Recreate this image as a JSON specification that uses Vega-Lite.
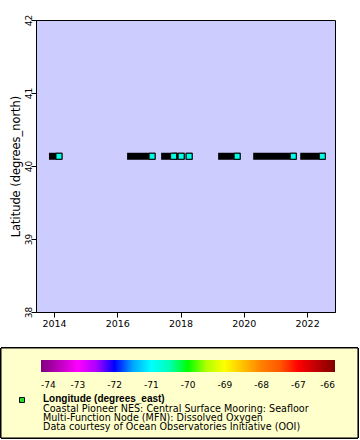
{
  "$schema": "https://vega.github.io/schema/vega-lite/v6.json",
  "autosize": {"type": "none"},
  "width": 299,
  "height": 292,
  "padding": {"left": 36, "top": 20, "right": 25, "bottom": 128},
  "background": "white",
  "view": {"fill": "#CCCCFF", "stroke": "black", "strokeWidth": 1},
  "config": {
    "font": "DejaVu Sans",
    "axis": {"labelColor": "black", "titleColor": "black", "tickColor": "black", "domainColor": "black", "grid": false, "titleFontWeight": "normal", "labelFont": "DejaVu Sans", "titleFont": "DejaVu Sans"},
    "legend": {"labelColor": "black", "labelFont": "DejaVu Sans"}
  },
  "title": {
    "text": "Longitude (degrees_east)",
    "subtitle": ["Coastal Pioneer NES: Central Surface Mooring: Seafloor", "Multi-Function Node (MFN): Dissolved Oxygen", "Data courtesy of Ocean Observatories Initiative (OOI)"],
    "orient": "bottom",
    "anchor": "start",
    "frame": "group",
    "offset": 0,
    "dx": 7,
    "dy": -44,
    "zindex": 2,
    "color": "black",
    "font": "Liberation Sans",
    "fontSize": 10,
    "fontWeight": "bold",
    "lineHeight": 9,
    "subtitleColor": "black",
    "subtitleFont": "DejaVu Sans",
    "subtitleFontSize": 9.6,
    "subtitleFontWeight": "normal",
    "subtitleLineHeight": 9,
    "subtitlePadding": 0
  },
  "data": {
    "values": [
      {"time_first": "2013-12-14", "time_last": "2014-02-27", "latitude": 40.1334, "longitude": -70.7785},
      {"time_first": "2016-06-03", "time_last": "2017-02-06", "latitude": 40.1334, "longitude": -70.7785},
      {"time_first": "2017-07-01", "time_last": "2017-10-13", "latitude": 40.1334, "longitude": -70.7785},
      {"time_first": "2017-11-16", "time_last": "2018-01-08", "latitude": 40.1334, "longitude": -70.7785},
      {"time_first": "2018-04-10", "time_last": "2018-04-10", "latitude": 40.1334, "longitude": -70.7785},
      {"time_first": "2019-04-20", "time_last": "2019-10-16", "latitude": 40.1334, "longitude": -70.7785},
      {"time_first": "2020-05-29", "time_last": "2021-07-25", "latitude": 40.1334, "longitude": -70.7785},
      {"time_first": "2021-11-23", "time_last": "2022-06-25", "latitude": 40.1334, "longitude": -70.7785}
    ]
  },
  "layer": [
    {
      "mark": {"type": "rect", "fill": "#FFFFCC", "stroke": "black", "strokeWidth": 1, "clip": false},
      "encoding": {
        "x": {"datum": {"year": 2012, "month": 4, "date": 29, "utc": true}, "type": "temporal"},
        "x2": {"datum": {"year": 2023, "month": 8, "date": 11, "utc": true}},
        "y": {"datum": 37.507, "type": "quantitative"},
        "y2": {"datum": 36.274}
      }
    },
    {
      "mark": {"type": "rule", "color": "black", "strokeWidth": 7, "strokeCap": "square"},
      "encoding": {
        "x": {
          "field": "time_first", "type": "temporal",
          "scale": {"type": "utc", "domain": [{"year": 2013, "month": 6, "date": 7, "utc": true}, {"year": 2022, "month": 11, "date": 19, "utc": true}], "nice": false},
          "axis": {
            "title": null,
            "values": [
              {"year": 2014, "utc": true}, {"year": 2015, "utc": true}, {"year": 2016, "utc": true},
              {"year": 2017, "utc": true}, {"year": 2018, "utc": true}, {"year": 2019, "utc": true},
              {"year": 2020, "utc": true}, {"year": 2021, "utc": true}, {"year": 2022, "utc": true}
            ],
            "labelExpr": "utcyear(datum.value) % 2 === 0 ? utcFormat(datum.value, '%Y') : ''",
            "tickSize": {"condition": {"test": "utcyear(datum.value) % 2 === 0", "value": 5}, "value": 2.5},
            "labelFontSize": 9.5,
            "labelPadding": 1,
            "labelFlush": false,
            "labelOverlap": false
          }
        },
        "x2": {"field": "time_last"},
        "y": {
          "field": "latitude", "type": "quantitative",
          "scale": {"domain": [38, 42], "nice": false, "zero": false},
          "axis": {
            "title": "Latitude (degrees_north)",
            "titleFontSize": 11.4,
            "titlePadding": 3,
            "values": [38, 38.25, 38.5, 38.75, 39, 39.25, 39.5, 39.75, 40, 40.25, 40.5, 40.75, 41, 41.25, 41.5, 41.75, 42],
            "labelExpr": "datum.value % 1 === 0 ? format(datum.value, 'd') : ''",
            "tickSize": {"condition": {"test": "datum.value % 1 === 0", "value": 5}, "value": 3},
            "labelFontSize": 9,
            "labelAngle": -90,
            "labelAlign": "center",
            "labelBaseline": "alphabetic",
            "labelPadding": 0,
            "labelFlush": false,
            "labelOverlap": false
          }
        }
      }
    },
    {
      "mark": {"type": "point", "size": 36, "filled": true, "stroke": "black", "strokeWidth": 1, "opacity": 1},
      "encoding": {
        "x": {"field": "time_last", "type": "temporal"},
        "y": {"field": "latitude", "type": "quantitative"},
        "fill": {
          "field": "longitude", "type": "quantitative",
          "scale": {"domain": [-74, -73, -72, -71, -70, -69, -68, -67, -66], "range": ["#800080", "#ff00ff", "#0000ff", "#00ffff", "#00ff00", "#ffff00", "#ff8000", "#ff0000", "#800000"]},
          "legend": {
            "orient": "none", "legendX": 5, "legendY": 340, "direction": "horizontal",
            "padding": 0, "title": null,
            "gradientLength": 294, "gradientThickness": 12, "gradientStrokeWidth": 0,
            "values": [-74, -73, -72, -71, -70, -69, -68, -67, -66],
            "labelExpr": "'-' + abs(datum.value)",
            "labelAlign": "center", "labelFontSize": 9, "labelOffset": 9, "labelOverlap": false
          }
        },
        "shape": {
          "datum": "Longitude (degrees_east)",
          "scale": {"range": ["square"]},
          "legend": {
            "orient": "none", "legendX": -17, "legendY": 377, "title": null, "padding": 0,
            "labelExpr": "''", "labelFontSize": 2, "symbolSize": 25, "symbolType": "square",
            "symbolFillColor": "#22dd22", "symbolStrokeColor": "black", "symbolStrokeWidth": 1, "symbolOpacity": 1
          }
        }
      }
    }
  ]
}
